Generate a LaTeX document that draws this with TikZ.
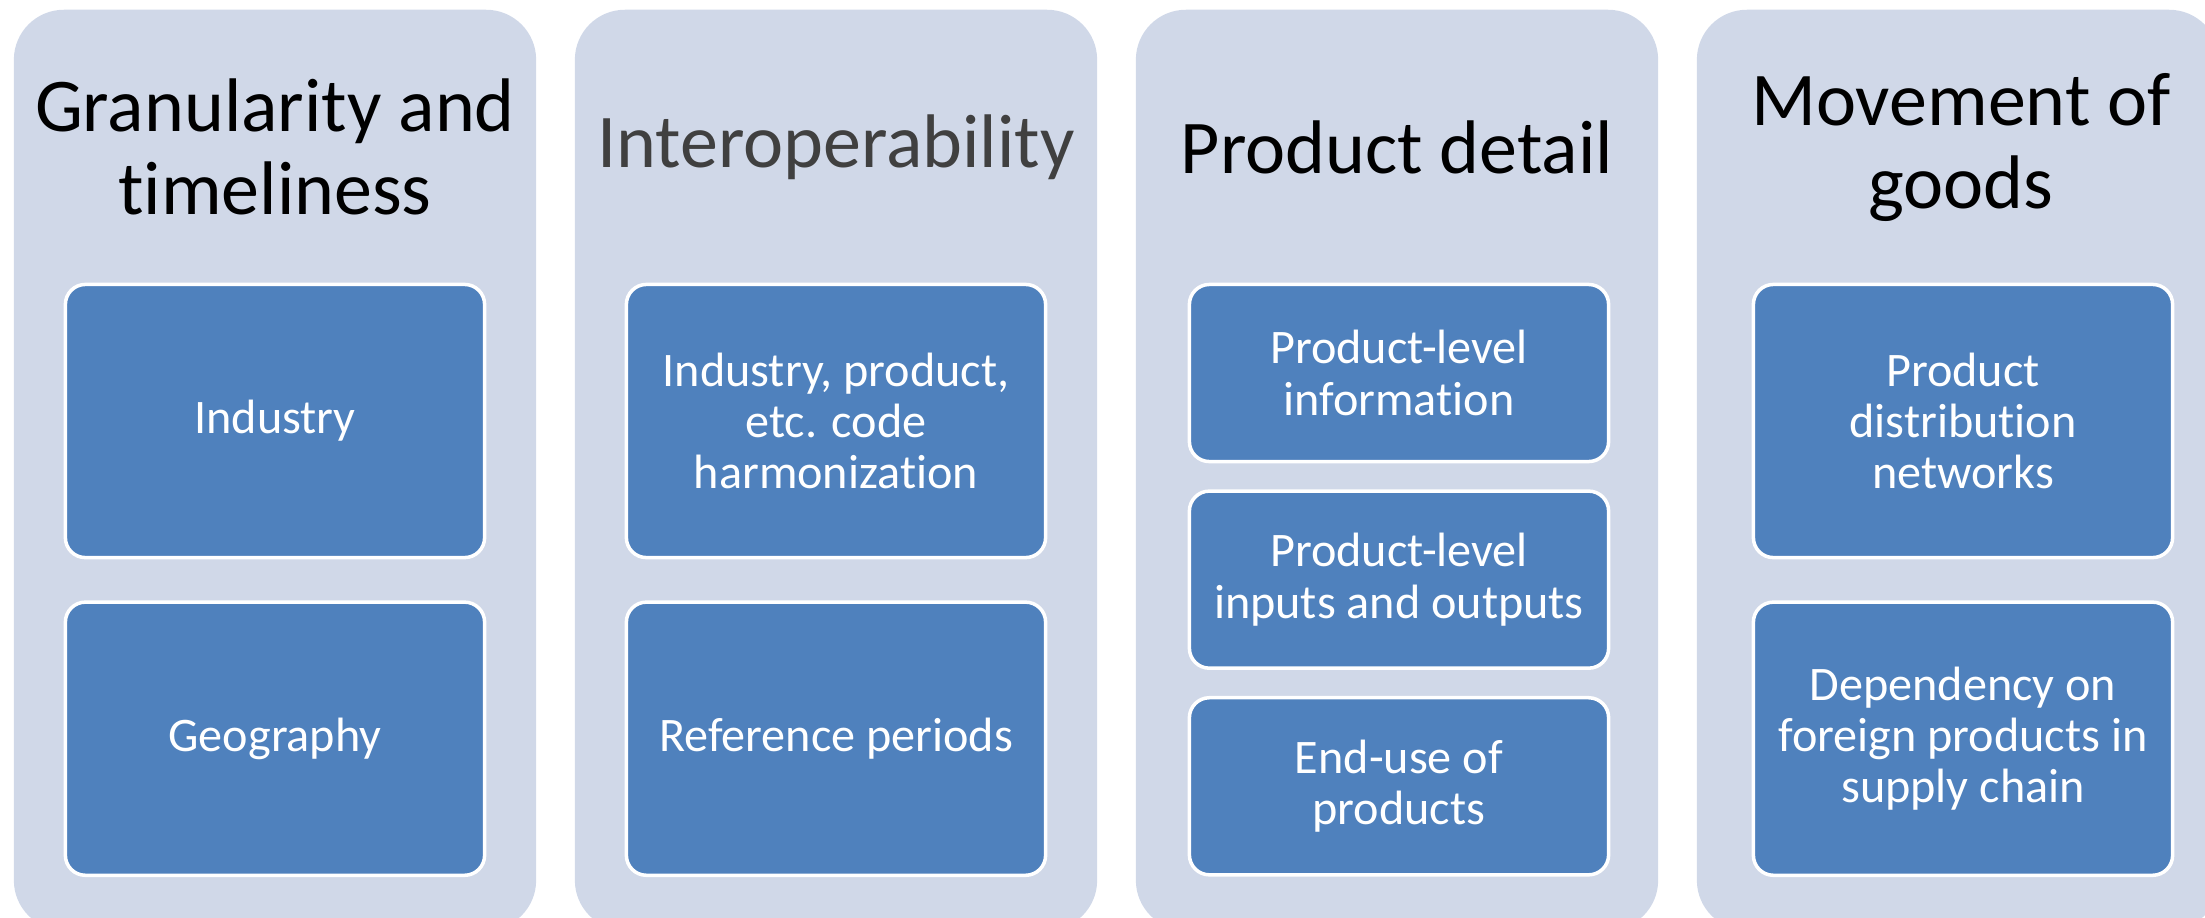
\documentclass[tikz,border=0pt]{standalone}
\usepackage{fontspec}
\setmainfont{Carlito}[Ligatures=CommonOff]
\usepackage{tikz}
\usepackage{xcolor}
\usetikzlibrary{positioning}

\definecolor{panelgray}{HTML}{D0D8E8}
\definecolor{itemblue}{HTML}{4F81BD}
\definecolor{titlegray}{HTML}{404040}

\begin{document}
\begin{tikzpicture}[x=0.01cm,y=-0.01cm,
  panel/.style={fill=panelgray, rounded corners=0.5cm, minimum width=5.22cm, minimum height=9.2cm, inner sep=0pt},
  heading/.style={align=center, font=\fontsize{21.6}{23.6}\selectfont},
  item/.style={fill=itemblue, draw=white, line width=1pt, rounded corners=0.2cm, text=white, align=center, minimum width=4.19cm, inner sep=0pt, font=\fontsize{13.7}{14.6}\selectfont},
  tall/.style={item, minimum height=2.73cm},
  short/.style={item, minimum height=1.77cm},
]
\useasboundingbox (0,0) rectangle (2205,917);

% four columns
\node[panel] (granbox) at (275,470) {};
\node[panel] (interbox) at (836,470) {};
\node[panel] (prodbox) at (1397,470) {};
\node[panel] (movebox) at (1958,470) {};

% headings
\node[heading] (granhead) at (275,147) {Granularity and\\timeliness};
\node[heading, text=titlegray] (interhead) at (836,147) {Interoperability};
\node[heading] (prodhead) at (1397,147) {Product detail};
\node[heading] (movehead) at (1961,147) {Movement of\\goods};

% granularity
\node[tall] (industry) at (275,421) {Industry};
\node[tall, below=0.41cm of industry] (geography) {Geography};

% interoperability
\node[tall] (codes) at (836,421) {Industry, product,\\etc. code\\harmonization};
\node[tall, below=0.41cm of codes] (periods) {Reference periods};

% product detail
\node[short] (prodinfo) at (1399,373) {Product-level\\information};
\node[short, below=0.26cm of prodinfo] (prodio) {Product-level\\inputs and outputs};
\node[short, below=0.26cm of prodio] (enduse) {End-use of\\products};

% movement of goods
\node[tall] (distrib) at (1963,421) {Product\\distribution\\networks};
\node[tall, below=0.41cm of distrib] (foreign) {Dependency on\\foreign products in\\supply chain};
\end{tikzpicture}
\end{document}
